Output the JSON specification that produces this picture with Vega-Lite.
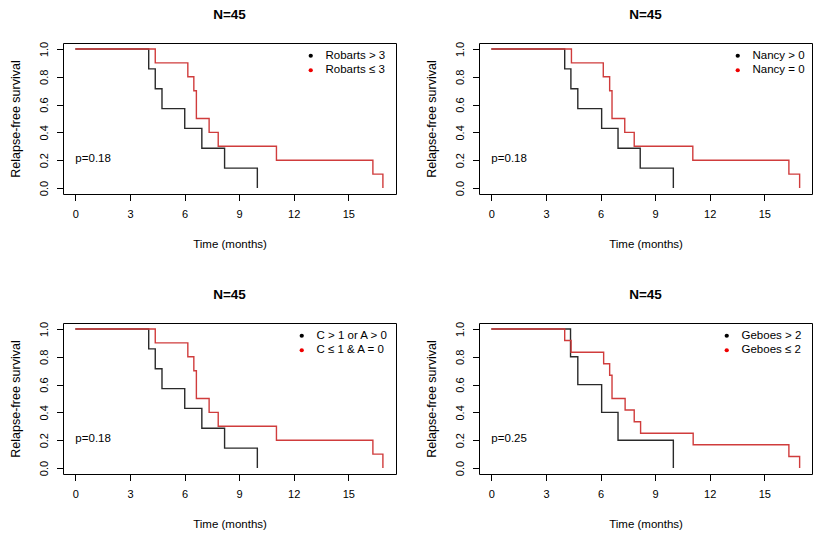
{
  "$schema": "https://vega.github.io/schema/vega-lite/v6.json",
  "background": "white",
  "padding": {"left": 8, "top": 7, "right": 8, "bottom": 8},
  "datasets": {
    "km": [
      {"panel": "A", "group": "Robarts > 3", "time": 0, "surv": 1},
      {"panel": "A", "group": "Robarts > 3", "time": 4.03, "surv": 0.857},
      {"panel": "A", "group": "Robarts > 3", "time": 4.39, "surv": 0.714},
      {"panel": "A", "group": "Robarts > 3", "time": 4.76, "surv": 0.571},
      {"panel": "A", "group": "Robarts > 3", "time": 6.01, "surv": 0.429},
      {"panel": "A", "group": "Robarts > 3", "time": 6.95, "surv": 0.286},
      {"panel": "A", "group": "Robarts > 3", "time": 8.2, "surv": 0.143},
      {"panel": "A", "group": "Robarts > 3", "time": 10.0, "surv": 0},
      {"panel": "A", "group": "Robarts  ≤ 3", "time": 0, "surv": 1},
      {"panel": "A", "group": "Robarts  ≤ 3", "time": 4.39, "surv": 0.9},
      {"panel": "A", "group": "Robarts  ≤ 3", "time": 6.18, "surv": 0.8},
      {"panel": "A", "group": "Robarts  ≤ 3", "time": 6.51, "surv": 0.7},
      {"panel": "A", "group": "Robarts  ≤ 3", "time": 6.65, "surv": 0.5},
      {"panel": "A", "group": "Robarts  ≤ 3", "time": 7.35, "surv": 0.4},
      {"panel": "A", "group": "Robarts  ≤ 3", "time": 7.85, "surv": 0.3},
      {"panel": "A", "group": "Robarts  ≤ 3", "time": 11.05, "surv": 0.2},
      {"panel": "A", "group": "Robarts  ≤ 3", "time": 16.35, "surv": 0.1},
      {"panel": "A", "group": "Robarts  ≤ 3", "time": 16.9, "surv": 0},
      {"panel": "B", "group": "Nancy > 0", "time": 0, "surv": 1},
      {"panel": "B", "group": "Nancy > 0", "time": 4.03, "surv": 0.857},
      {"panel": "B", "group": "Nancy > 0", "time": 4.37, "surv": 0.714},
      {"panel": "B", "group": "Nancy > 0", "time": 4.75, "surv": 0.571},
      {"panel": "B", "group": "Nancy > 0", "time": 6.06, "surv": 0.429},
      {"panel": "B", "group": "Nancy > 0", "time": 6.96, "surv": 0.286},
      {"panel": "B", "group": "Nancy > 0", "time": 8.18, "surv": 0.143},
      {"panel": "B", "group": "Nancy > 0", "time": 10.0, "surv": 0},
      {"panel": "B", "group": "Nancy = 0", "time": 0, "surv": 1},
      {"panel": "B", "group": "Nancy = 0", "time": 4.4, "surv": 0.9},
      {"panel": "B", "group": "Nancy = 0", "time": 6.15, "surv": 0.8},
      {"panel": "B", "group": "Nancy = 0", "time": 6.5, "surv": 0.7},
      {"panel": "B", "group": "Nancy = 0", "time": 6.63, "surv": 0.5},
      {"panel": "B", "group": "Nancy = 0", "time": 7.33, "surv": 0.4},
      {"panel": "B", "group": "Nancy = 0", "time": 7.85, "surv": 0.3},
      {"panel": "B", "group": "Nancy = 0", "time": 11.07, "surv": 0.2},
      {"panel": "B", "group": "Nancy = 0", "time": 16.35, "surv": 0.1},
      {"panel": "B", "group": "Nancy = 0", "time": 16.94, "surv": 0},
      {"panel": "C", "group": "C > 1 or A > 0", "time": 0, "surv": 1},
      {"panel": "C", "group": "C > 1 or A > 0", "time": 4.03, "surv": 0.857},
      {"panel": "C", "group": "C > 1 or A > 0", "time": 4.39, "surv": 0.714},
      {"panel": "C", "group": "C > 1 or A > 0", "time": 4.76, "surv": 0.571},
      {"panel": "C", "group": "C > 1 or A > 0", "time": 6.01, "surv": 0.429},
      {"panel": "C", "group": "C > 1 or A > 0", "time": 6.95, "surv": 0.286},
      {"panel": "C", "group": "C > 1 or A > 0", "time": 8.2, "surv": 0.143},
      {"panel": "C", "group": "C > 1 or A > 0", "time": 10.0, "surv": 0},
      {"panel": "C", "group": "C  ≤ 1 & A = 0", "time": 0, "surv": 1},
      {"panel": "C", "group": "C  ≤ 1 & A = 0", "time": 4.39, "surv": 0.9},
      {"panel": "C", "group": "C  ≤ 1 & A = 0", "time": 6.18, "surv": 0.8},
      {"panel": "C", "group": "C  ≤ 1 & A = 0", "time": 6.51, "surv": 0.7},
      {"panel": "C", "group": "C  ≤ 1 & A = 0", "time": 6.65, "surv": 0.5},
      {"panel": "C", "group": "C  ≤ 1 & A = 0", "time": 7.35, "surv": 0.4},
      {"panel": "C", "group": "C  ≤ 1 & A = 0", "time": 7.85, "surv": 0.3},
      {"panel": "C", "group": "C  ≤ 1 & A = 0", "time": 11.05, "surv": 0.2},
      {"panel": "C", "group": "C  ≤ 1 & A = 0", "time": 16.35, "surv": 0.1},
      {"panel": "C", "group": "C  ≤ 1 & A = 0", "time": 16.9, "surv": 0},
      {"panel": "D", "group": "Geboes > 2", "time": 0, "surv": 1},
      {"panel": "D", "group": "Geboes > 2", "time": 4.35, "surv": 0.8},
      {"panel": "D", "group": "Geboes > 2", "time": 4.75, "surv": 0.6},
      {"panel": "D", "group": "Geboes > 2", "time": 6.06, "surv": 0.4},
      {"panel": "D", "group": "Geboes > 2", "time": 6.96, "surv": 0.2},
      {"panel": "D", "group": "Geboes > 2", "time": 10.0, "surv": 0},
      {"panel": "D", "group": "Geboes  ≤ 2", "time": 0, "surv": 1},
      {"panel": "D", "group": "Geboes  ≤ 2", "time": 4.03, "surv": 0.917},
      {"panel": "D", "group": "Geboes  ≤ 2", "time": 4.38, "surv": 0.833},
      {"panel": "D", "group": "Geboes  ≤ 2", "time": 6.17, "surv": 0.75},
      {"panel": "D", "group": "Geboes  ≤ 2", "time": 6.5, "surv": 0.667},
      {"panel": "D", "group": "Geboes  ≤ 2", "time": 6.63, "surv": 0.5},
      {"panel": "D", "group": "Geboes  ≤ 2", "time": 7.35, "surv": 0.417},
      {"panel": "D", "group": "Geboes  ≤ 2", "time": 7.85, "surv": 0.333},
      {"panel": "D", "group": "Geboes  ≤ 2", "time": 8.2, "surv": 0.25},
      {"panel": "D", "group": "Geboes  ≤ 2", "time": 11.09, "surv": 0.167},
      {"panel": "D", "group": "Geboes  ≤ 2", "time": 16.35, "surv": 0.083},
      {"panel": "D", "group": "Geboes  ≤ 2", "time": 16.94, "surv": 0}
    ],
    "pvals": [
      {"panel": "A", "label": "p=0.18"},
      {"panel": "B", "label": "p=0.18"},
      {"panel": "C", "label": "p=0.18"},
      {"panel": "D", "label": "p=0.25"}
    ]
  },
  "columns": 2,
  "spacing": {"row": 129, "column": 83},
  "bounds": "flush",
  "resolve": {
    "scale": {"color": "independent", "x": "independent", "y": "independent"},
    "legend": {"color": "independent"}
  },
  "concat": [
    {
      "width": 333, "height": 151,
      "title": "N=45",
      "layer": [
        {
          "data": {"name": "km"},
          "transform": [{"filter": "datum.panel == 'A'"}],
          "mark": {"type": "line", "interpolate": "step-after", "strokeWidth": 1.4},
          "encoding": {
            "x": {"field": "time", "type": "quantitative", "scale": {"domain": [-0.68, 17.62], "nice": false, "zero": false}, "axis": {"values": [0, 3, 6, 9, 12, 15], "labelOverlap": false, "title": "Time (months)"}},
            "y": {"field": "surv", "type": "quantitative", "scale": {"domain": [-0.043, 1.043], "nice": false, "zero": false}, "axis": {"values": [0, 0.2, 0.4, 0.6, 0.8, 1.0], "format": ".1f", "labelOverlap": false, "title": "Relapse-free survival"}},
            "color": {"field": "group", "type": "nominal", "scale": {"domain": ["Robarts > 3", "Robarts  ≤ 3"], "range": ["#2a2a2a", "#d03c3c"]},
              "legend": {"title": null, "encode": {"symbols": {"update": {"fill": {"signal": "datum.index === 0 ? '#000000' : '#ee0000'"}, "fillOpacity": {"value": 1}, "strokeWidth": {"value": 0}}}}}}
          }
        },
        {
          "data": {"name": "pvals"},
          "transform": [{"filter": "datum.panel == 'A'"}],
          "mark": {"type": "text", "align": "left", "baseline": "middle", "fontSize": 11.5, "font": "Liberation Sans", "color": "#000"},
          "encoding": {
            "x": {"datum": 0, "type": "quantitative", "axis": {"values": [0, 3, 6, 9, 12, 15], "labelOverlap": false, "title": "Time (months)"}},
            "y": {"datum": 0.21, "type": "quantitative", "axis": {"values": [0, 0.2, 0.4, 0.6, 0.8, 1.0], "format": ".1f", "labelOverlap": false, "title": "Relapse-free survival"}},
            "text": {"field": "label"}
          }
        }
      ]
    },
    {
      "width": 333, "height": 151,
      "title": "N=45",
      "layer": [
        {
          "data": {"name": "km"},
          "transform": [{"filter": "datum.panel == 'B'"}],
          "mark": {"type": "line", "interpolate": "step-after", "strokeWidth": 1.4},
          "encoding": {
            "x": {"field": "time", "type": "quantitative", "scale": {"domain": [-0.68, 17.62], "nice": false, "zero": false}, "axis": {"values": [0, 3, 6, 9, 12, 15], "labelOverlap": false, "title": "Time (months)"}},
            "y": {"field": "surv", "type": "quantitative", "scale": {"domain": [-0.043, 1.043], "nice": false, "zero": false}, "axis": {"values": [0, 0.2, 0.4, 0.6, 0.8, 1.0], "format": ".1f", "labelOverlap": false, "title": "Relapse-free survival"}},
            "color": {"field": "group", "type": "nominal", "scale": {"domain": ["Nancy > 0", "Nancy = 0"], "range": ["#2a2a2a", "#d03c3c"]},
              "legend": {"title": null, "encode": {"symbols": {"update": {"fill": {"signal": "datum.index === 0 ? '#000000' : '#ee0000'"}, "fillOpacity": {"value": 1}, "strokeWidth": {"value": 0}}}}}}
          }
        },
        {
          "data": {"name": "pvals"},
          "transform": [{"filter": "datum.panel == 'B'"}],
          "mark": {"type": "text", "align": "left", "baseline": "middle", "fontSize": 11.5, "font": "Liberation Sans", "color": "#000"},
          "encoding": {
            "x": {"datum": 0, "type": "quantitative", "axis": {"values": [0, 3, 6, 9, 12, 15], "labelOverlap": false, "title": "Time (months)"}},
            "y": {"datum": 0.21, "type": "quantitative", "axis": {"values": [0, 0.2, 0.4, 0.6, 0.8, 1.0], "format": ".1f", "labelOverlap": false, "title": "Relapse-free survival"}},
            "text": {"field": "label"}
          }
        }
      ]
    },
    {
      "width": 333, "height": 151,
      "title": "N=45",
      "layer": [
        {
          "data": {"name": "km"},
          "transform": [{"filter": "datum.panel == 'C'"}],
          "mark": {"type": "line", "interpolate": "step-after", "strokeWidth": 1.4},
          "encoding": {
            "x": {"field": "time", "type": "quantitative", "scale": {"domain": [-0.68, 17.62], "nice": false, "zero": false}, "axis": {"values": [0, 3, 6, 9, 12, 15], "labelOverlap": false, "title": "Time (months)"}},
            "y": {"field": "surv", "type": "quantitative", "scale": {"domain": [-0.043, 1.043], "nice": false, "zero": false}, "axis": {"values": [0, 0.2, 0.4, 0.6, 0.8, 1.0], "format": ".1f", "labelOverlap": false, "title": "Relapse-free survival"}},
            "color": {"field": "group", "type": "nominal", "scale": {"domain": ["C > 1 or A > 0", "C  ≤ 1 & A = 0"], "range": ["#2a2a2a", "#d03c3c"]},
              "legend": {"title": null, "encode": {"symbols": {"update": {"fill": {"signal": "datum.index === 0 ? '#000000' : '#ee0000'"}, "fillOpacity": {"value": 1}, "strokeWidth": {"value": 0}}}}}}
          }
        },
        {
          "data": {"name": "pvals"},
          "transform": [{"filter": "datum.panel == 'C'"}],
          "mark": {"type": "text", "align": "left", "baseline": "middle", "fontSize": 11.5, "font": "Liberation Sans", "color": "#000"},
          "encoding": {
            "x": {"datum": 0, "type": "quantitative", "axis": {"values": [0, 3, 6, 9, 12, 15], "labelOverlap": false, "title": "Time (months)"}},
            "y": {"datum": 0.21, "type": "quantitative", "axis": {"values": [0, 0.2, 0.4, 0.6, 0.8, 1.0], "format": ".1f", "labelOverlap": false, "title": "Relapse-free survival"}},
            "text": {"field": "label"}
          }
        }
      ]
    },
    {
      "width": 333, "height": 151,
      "title": "N=45",
      "layer": [
        {
          "data": {"name": "km"},
          "transform": [{"filter": "datum.panel == 'D'"}],
          "mark": {"type": "line", "interpolate": "step-after", "strokeWidth": 1.4},
          "encoding": {
            "x": {"field": "time", "type": "quantitative", "scale": {"domain": [-0.68, 17.62], "nice": false, "zero": false}, "axis": {"values": [0, 3, 6, 9, 12, 15], "labelOverlap": false, "title": "Time (months)"}},
            "y": {"field": "surv", "type": "quantitative", "scale": {"domain": [-0.043, 1.043], "nice": false, "zero": false}, "axis": {"values": [0, 0.2, 0.4, 0.6, 0.8, 1.0], "format": ".1f", "labelOverlap": false, "title": "Relapse-free survival"}},
            "color": {"field": "group", "type": "nominal", "scale": {"domain": ["Geboes > 2", "Geboes  ≤ 2"], "range": ["#2a2a2a", "#d03c3c"]},
              "legend": {"title": null, "encode": {"symbols": {"update": {"fill": {"signal": "datum.index === 0 ? '#000000' : '#ee0000'"}, "fillOpacity": {"value": 1}, "strokeWidth": {"value": 0}}}}}}
          }
        },
        {
          "data": {"name": "pvals"},
          "transform": [{"filter": "datum.panel == 'D'"}],
          "mark": {"type": "text", "align": "left", "baseline": "middle", "fontSize": 11.5, "font": "Liberation Sans", "color": "#000"},
          "encoding": {
            "x": {"datum": 0, "type": "quantitative", "axis": {"values": [0, 3, 6, 9, 12, 15], "labelOverlap": false, "title": "Time (months)"}},
            "y": {"datum": 0.21, "type": "quantitative", "axis": {"values": [0, 0.2, 0.4, 0.6, 0.8, 1.0], "format": ".1f", "labelOverlap": false, "title": "Relapse-free survival"}},
            "text": {"field": "label"}
          }
        }
      ]
    }
  ],
  "config": {
    "font": "Liberation Sans",
    "view": {"stroke": "#000000", "strokeWidth": 1},
    "axis": {
      "domain": false, "grid": false, "labelFlush": false, "labelOverlap": false,
      "tickColor": "#000000", "tickSize": 6.5, "tickWidth": 1,
      "labelFont": "Liberation Sans", "labelFontSize": 11, "labelColor": "#000000",
      "titleFont": "Liberation Sans", "titleFontSize": 11.5, "titleFontWeight": "normal", "titleColor": "#000000"
    },
    "axisX": {"labelPadding": 8, "titlePadding": 19},
    "axisY": {"labelAngle": 270, "labelAlign": "center", "labelBaseline": "bottom", "labelPadding": 7, "titlePadding": 16, "titleFontSize": 12.5},
    "legend": {
      "orient": "top-right", "offset": 7, "padding": 0,
      "symbolType": "circle", "symbolSize": 18,
      "labelFont": "Liberation Sans", "labelFontSize": 11.5, "labelColor": "#000000",
      "labelOffset": 9, "rowPadding": 1.5
    },
    "title": {"font": "Liberation Sans", "fontSize": 13.5, "fontWeight": "bold", "color": "#000000", "offset": 20, "anchor": "middle"}
  }
}
